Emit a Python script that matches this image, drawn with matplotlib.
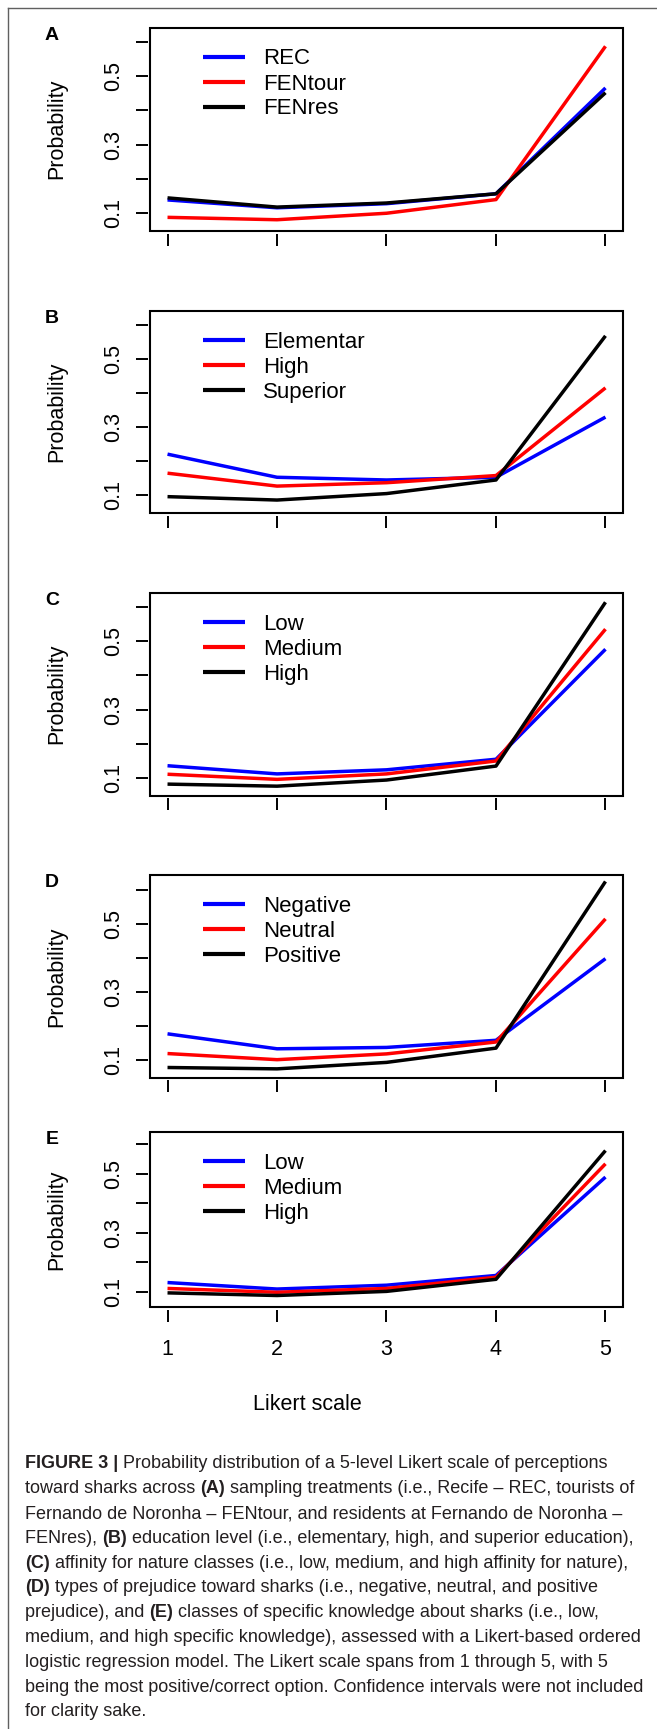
import matplotlib
matplotlib.use("Agg")
import matplotlib.pyplot as plt
from matplotlib.patches import Rectangle
from matplotlib.lines import Line2D

plt.rcParams['font.family'] = ['Liberation Sans', 'DejaVu Sans']

# Datos (probabilidad por nivel Likert)
likert = [1, 2, 3, 4, 5]
paneles = ['A', 'B', 'C', 'D', 'E']
colores = ['#0000ff', '#ff0000', '#000000']

etiquetas_A = ['REC', 'FENtour', 'FENres']
rec = [0.138, 0.115, 0.127, 0.156, 0.466]
fentour = [0.087, 0.080, 0.099, 0.139, 0.588]
fenres = [0.144, 0.117, 0.129, 0.156, 0.452]

etiquetas_B = ['Elementar', 'High', 'Superior']
elementar = [0.221, 0.153, 0.145, 0.153, 0.330]
high_edu = [0.165, 0.127, 0.137, 0.158, 0.416]
superior = [0.096, 0.086, 0.105, 0.145, 0.569]

etiquetas_C = ['Low', 'Medium', 'High']
low_nat = [0.135, 0.111, 0.123, 0.154, 0.477]
medium_nat = [0.110, 0.095, 0.111, 0.149, 0.536]
high_nat = [0.081, 0.075, 0.093, 0.134, 0.615]

etiquetas_D = ['Negative', 'Neutral', 'Positive']
negative = [0.176, 0.132, 0.136, 0.157, 0.397]
neutral = [0.118, 0.100, 0.117, 0.152, 0.514]
positive = [0.077, 0.073, 0.092, 0.134, 0.624]

etiquetas_E = ['Low', 'Medium', 'High']
low_con = [0.131, 0.109, 0.122, 0.155, 0.489]
medium_con = [0.111, 0.098, 0.111, 0.149, 0.534]
high_con = [0.096, 0.087, 0.101, 0.142, 0.579]

series = [
    (etiquetas_A, [rec, fentour, fenres]),
    (etiquetas_B, [elementar, high_edu, superior]),
    (etiquetas_C, [low_nat, medium_nat, high_nat]),
    (etiquetas_D, [negative, neutral, positive]),
    (etiquetas_E, [low_con, medium_con, high_con]),
]

y_ticks = [0.1, 0.2, 0.3, 0.4, 0.5, 0.6]
y_ticklabels = ['0.1', '', '0.3', '', '0.5', '']

# Texto del pie de figura: (texto, negrita)
pie = [
    [("FIGURE 3 | ", True), ("Probability distribution of a 5-level Likert scale of perceptions", False)],
    [("toward sharks across ", False), ("(A)", True), (" sampling treatments (i.e., Recife \u2013 REC, tourists of", False)],
    [("Fernando de Noronha \u2013 FENtour, and residents at Fernando de Noronha \u2013", False)],
    [("FENres), ", False), ("(B)", True), (" education level (i.e., elementary, high, and superior education),", False)],
    [("(C)", True), (" affinity for nature classes (i.e., low, medium, and high affinity for nature),", False)],
    [("(D)", True), (" types of prejudice toward sharks (i.e., negative, neutral, and positive", False)],
    [("prejudice), and ", False), ("(E)", True), (" classes of specific knowledge about sharks (i.e., low,", False)],
    [("medium, and high specific knowledge), assessed with a Likert-based ordered", False)],
    [("logistic regression model. The Likert scale spans from 1 through 5, with 5", False)],
    [("being the most positive/correct option. Confidence intervals were not included", False)],
    [("for clarity sake.", False)],
]

# Geometria en pixeles
W, H = 657, 1729
x_izq, x_der = 150, 623
cajas = [(27.5, 231.0), (310.7, 513.3), (592.7, 795.7), (875.0, 1077.7), (1131.7, 1307.3)]

fig = plt.figure(figsize=(W / 100, H / 100), dpi=100)

for i, (letra, (etiquetas, valores)) in enumerate(zip(paneles, series)):
    top, bot = cajas[i]
    ax = fig.add_axes([x_izq / W, 1 - bot / H, (x_der - x_izq) / W, (bot - top) / H])
    for v, c, lab in zip(valores, colores, etiquetas):
        ax.plot(likert, v, color=c, lw=2.5, label=lab, solid_capstyle='butt')
    ax.set_xlim(0.84, 5.16)
    ax.set_ylim(0.047, 0.643)
    for s in ax.spines.values():
        s.set_visible(False)
    ax.spines['bottom'].set_position(('outward', 2))
    ax.spines['left'].set_position(('outward', 1.2))
    ax.add_patch(Rectangle((0, 0), 1, 1, transform=ax.transAxes, fill=False,
                           lw=1.5, ec='black', clip_on=False, zorder=5))
    ax.set_xticks(likert)
    ax.set_yticks(y_ticks)
    ax.set_yticklabels(y_ticklabels, rotation=90, va='center', fontsize=15.5)
    ax.tick_params(axis='both', length=8.6, width=1.4, direction='out')
    ax.tick_params(axis='y', pad=9)
    if letra == 'E':
        ax.set_xticklabels([str(k) for k in likert], fontsize=15.5)
        ax.tick_params(axis='x', pad=12.5)
    else:
        ax.set_xticklabels([])
    h_px = bot - top
    ax.legend(loc='upper left', bbox_to_anchor=(53 / (x_der - x_izq), 1 - 21 / h_px),
              frameon=False, fontsize=16, handlelength=1.9, handletextpad=0.8,
              labelspacing=0.18, borderpad=0, borderaxespad=0)
    for ln in ax.get_legend().get_lines():
        ln.set_linewidth(3.0)
    fig.text(52 / W, 1 - (top + 8) / H, letra, fontsize=14, fontweight='bold',
             ha='center', va='center')
    fig.text(57 / W, 1 - (top + bot) / 2 / H, 'Probability', fontsize=15.5,
             rotation=90, ha='center', va='center')

fig.text(307 / W, 1 - 1404 / H, 'Likert scale', fontsize=15.5, ha='center', va='center')

# Marco exterior (solo borde superior e izquierdo visibles)
fig.add_artist(Line2D([7.5 / W, 1], [1 - 8.3 / H, 1 - 8.3 / H], color='#606060', lw=1.0))
fig.add_artist(Line2D([7.5 / W, 7.5 / W], [0, 1 - 8.3 / H], color='#606060', lw=1.0))

# Pie de figura con fragmentos en negrita
renderer = fig.canvas.get_renderer()
y0, paso = 1464, 24.8
for j, linea in enumerate(pie):
    x = 25.0
    for texto, negrita in linea:
        t = fig.text(x / W, 1 - (y0 + j * paso) / H, texto, fontsize=13.0,
                     fontweight='bold' if negrita else 'normal', color='#231f20',
                     ha='left', va='center')
        x += t.get_window_extent(renderer).width

fig.savefig('out.png', dpi=100)
